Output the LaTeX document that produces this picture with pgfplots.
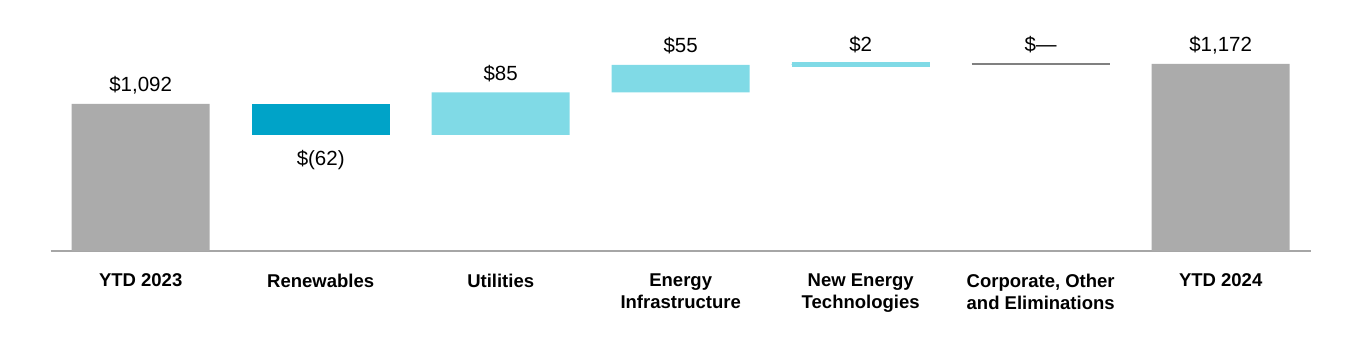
\documentclass[border=0pt]{standalone}
\usepackage{pgfplots}
\pgfplotsset{compat=1.18}
\usepackage{pgfplotstable}
\usepackage{fontspec}
\setmainfont{Liberation Sans}
\definecolor{barGrey}{HTML}{ABABAB}
\definecolor{darkTeal}{HTML}{00A3C8}
\definecolor{lightTeal}{HTML}{80DAE6}
\definecolor{lineGrey}{HTML}{808080}
\definecolor{axisGrey}{HTML}{A6A6A6}

\pgfplotstableread{
x base grey dark light
0 0    1092 0  0
1 1030 0    62 0
2 1030 0    0  85
3 1115 0    0  55
4 1170 0    0  2
5 0    0    0  0
6 0    1172 0  0
}\waterfall

\pgfplotstableread{
x y lab
0 1092 {\$1,092}
2 1115 {\$85}
3 1170 {\$55}
4 1172 {\$2}
5 1172 {\$---}
6 1172 {\$1,172}
}\labelsAbove

\pgfplotstableread{
x y lab
1 1030 {\$(62)}
}\labelsBelow

\pgfplotsset{common/.style={
  at={(0pt,0pt)}, anchor=south west,
  scale only axis,
  width=1260pt, height=231pt,
  xmin=-0.5, xmax=6.5,
  ymin=798, ymax=1260,
}}

\begin{document}
\begin{tikzpicture}
\path[use as bounding box] (-50.7pt,-99pt) rectangle (1309.3pt,251pt);
\begin{axis}[
  common,
  ybar stacked,
  bar width=138pt,
  axis x line*=bottom,
  axis y line=none,
  x axis line style={draw=axisGrey, line width=1.5pt, -},
  xtick=data,
  xtick style={draw=none},
  ytick=\empty,
  xticklabels={{YTD 2023},{Renewables},{Utilities},{Energy\\Infrastructure},{New Energy\\Technologies},{Corporate, Other\\and Eliminations},{YTD 2024}},
  xticklabel style={font=\fontsize{18.5}{22}\selectfont\bfseries, align=center, anchor=north, yshift=-19.5pt},
]
\addplot[draw=none, fill=none] table[x=x, y=base] {\waterfall};
\addplot[draw=none, fill=barGrey] table[x=x, y=grey] {\waterfall};
\addplot[draw=none, fill=darkTeal] table[x=x, y=dark] {\waterfall};
\addplot[draw=none, fill=lightTeal] table[x=x, y=light] {\waterfall};
\end{axis}
\begin{axis}[
  common,
  hide axis,
  clip=false,
]
% thin New Energy bar (drawn with visible thickness) and the Corporate nil line
\addplot[draw=lightTeal, line width=5.5pt] coordinates {(3.617,1171) (4.383,1171)};
\addplot[draw=lineGrey, line width=1.5pt] coordinates {(4.617,1172) (5.383,1172)};
% value labels
\addplot[draw=none, mark=none,
  nodes near coords, point meta=explicit symbolic,
  nodes near coords style={font=\fontsize{20.5}{24}\selectfont, anchor=base, yshift=12pt, text=black}]
  table[x=x, y=y, meta=lab] {\labelsAbove};
\addplot[draw=none, mark=none,
  nodes near coords, point meta=explicit symbolic,
  nodes near coords style={font=\fontsize{20.5}{24}\selectfont, anchor=base, yshift=-31pt, text=black}]
  table[x=x, y=y, meta=lab] {\labelsBelow};
\end{axis}
\end{tikzpicture}
\end{document}
